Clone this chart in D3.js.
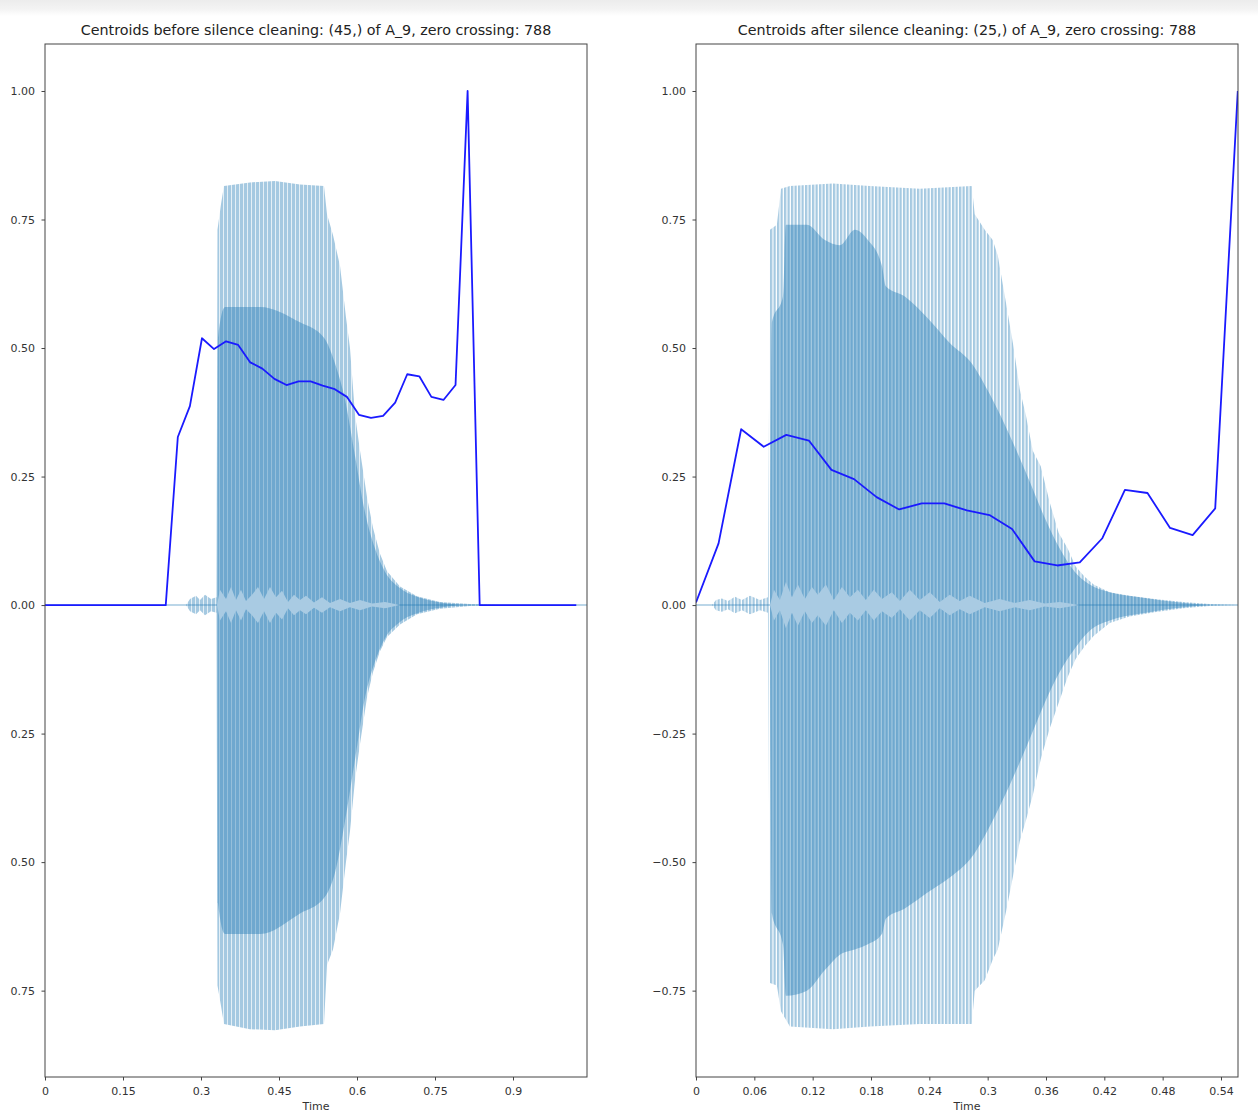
<!DOCTYPE html>
<html>
<head>
<meta charset="utf-8">
<script src="https://cdn.jsdelivr.net/npm/d3@7"></script>
<style>
  body { margin: 0; background: #fff; }
  svg { display: block; font-family: "DejaVu Sans", sans-serif; }
</style>
</head>
<body>
<svg id="chart" width="1258" height="1115"></svg>
<script>
// centroid frames are hop 512 at 22050 Hz
const hopSec = 512 / 22050;

const leftTitle = "Centroids before silence cleaning: (45,) of A_9, zero crossing: 788";
const rightTitle = "Centroids after silence cleaning: (25,) of A_9, zero crossing: 788";

// normalised spectral centroid per frame
const leftCentroids = [0, 0, 0, 0, 0, 0, 0, 0, 0, 0, 0,
  0.327, 0.387, 0.519, 0.498, 0.513, 0.506, 0.472, 0.46, 0.44, 0.428,
  0.435, 0.435, 0.427, 0.42, 0.405, 0.37, 0.364, 0.368, 0.394, 0.449,
  0.445, 0.405, 0.399, 0.428, 1.0,
  0, 0, 0, 0, 0, 0, 0, 0, 0];
const rightCentroids = [0.005, 0.12, 0.342, 0.308, 0.331, 0.32, 0.263, 0.245, 0.21, 0.186,
  0.198, 0.198, 0.184, 0.175, 0.148, 0.085, 0.077, 0.083, 0.13, 0.224,
  0.218, 0.15, 0.136, 0.188, 1.0];

// waveform outer envelope (seconds, max, min)
const leftEnvT = [0.2712, 0.2788, 0.2904, 0.2981, 0.3077, 0.3192, 0.3298, 0.3317, 0.3385, 0.3442,
  0.3942, 0.4423, 0.4904, 0.5365, 0.5423, 0.5538, 0.5673, 0.5788, 0.5865, 0.5962,
  0.6058, 0.6192, 0.6308, 0.6442, 0.6577, 0.6827, 0.7154, 0.7596, 0.8173, 0.875];
const leftEnvTop = [0, 0.012, 0.018, 0.01, 0.02, 0.012, 0.015, 0.73, 0.78, 0.815,
  0.822, 0.825, 0.818, 0.815, 0.76, 0.72, 0.66, 0.56, 0.5, 0.37,
  0.3, 0.21, 0.15, 0.1, 0.066, 0.036, 0.017, 0.006, 0.002, 0];
const leftEnvBot = [0, -0.012, -0.018, -0.01, -0.02, -0.012, -0.015, -0.74, -0.78, -0.815,
  -0.825, -0.827, -0.82, -0.815, -0.7, -0.67, -0.6, -0.5, -0.44, -0.34,
  -0.27, -0.18, -0.13, -0.09, -0.062, -0.038, -0.018, -0.007, -0.002, 0];

// denser inner body of the waveform
const leftBodyT = [0.3317, 0.3327, 0.3462, 0.4135, 0.4904, 0.5365, 0.5577, 0.5769, 0.5962, 0.6154,
  0.6346, 0.6538, 0.6827, 0.7212, 0.7596, 0.8173];
const leftBodyTop = [0, 0.52, 0.58, 0.58, 0.55, 0.52, 0.47, 0.4, 0.29, 0.18,
  0.11, 0.065, 0.033, 0.014, 0.005, 0];
const leftBodyBot = [0, -0.58, -0.64, -0.64, -0.6, -0.57, -0.52, -0.42, -0.3, -0.18,
  -0.11, -0.065, -0.033, -0.014, -0.005, 0];

// light flecks around zero
const leftBandT = [0.3308, 0.3365, 0.3481, 0.3577, 0.3673, 0.3769, 0.3865, 0.3981, 0.4096, 0.4212,
  0.4327, 0.4442, 0.4558, 0.4673, 0.4788, 0.4904, 0.5019, 0.5173, 0.5327, 0.5481,
  0.5673, 0.5865, 0.6058, 0.6288, 0.6538, 0.6827];
const leftBandV = [0, 0.03, 0.012, 0.035, 0.01, 0.03, 0.008, 0.02, 0.035, 0.012,
  0.035, 0.015, 0.028, 0.006, 0.02, 0.01, 0.018, 0.005, 0.015, 0.004,
  0.012, 0.004, 0.01, 0.003, 0.006, 0];

const rightEnvT = [0.0164, 0.0206, 0.0267, 0.0329, 0.0401, 0.0473, 0.0555, 0.0658, 0.074, 0.0761,
  0.0832, 0.0874, 0.0966, 0.1408, 0.1788, 0.2302, 0.2837, 0.2867, 0.297, 0.3052,
  0.3104, 0.3196, 0.3268, 0.333, 0.3392, 0.3464, 0.3546, 0.3638, 0.3731, 0.3823,
  0.3905, 0.3998, 0.409, 0.4255, 0.446, 0.4717, 0.5015, 0.5283, 0.557];
const rightEnvTop = [0, 0.01, 0.013, 0.008, 0.016, 0.01, 0.018, 0.01, 0.015, 0.73,
  0.74, 0.81, 0.815, 0.82, 0.815, 0.81, 0.815, 0.76, 0.73, 0.71,
  0.68, 0.58, 0.5, 0.42, 0.37, 0.3, 0.27, 0.2, 0.14, 0.11,
  0.075, 0.055, 0.04, 0.025, 0.018, 0.012, 0.006, 0.002, 0];
const rightEnvBot = [0, -0.01, -0.013, -0.008, -0.016, -0.01, -0.018, -0.01, -0.015, -0.735,
  -0.74, -0.79, -0.82, -0.825, -0.82, -0.815, -0.815, -0.75, -0.73, -0.69,
  -0.67, -0.59, -0.52, -0.46, -0.42, -0.37, -0.3, -0.24, -0.19, -0.14,
  -0.105, -0.08, -0.06, -0.035, -0.022, -0.014, -0.006, -0.002, 0];

const rightBodyT = [0.0761, 0.0781, 0.0894, 0.0925, 0.1141, 0.1326, 0.148, 0.1634, 0.1768, 0.1912,
  0.1953, 0.2148, 0.2374, 0.261, 0.2837, 0.3022, 0.3227, 0.3433, 0.3587, 0.3741,
  0.3895, 0.4049, 0.4255, 0.4563, 0.5026, 0.5283];
const rightBodyTop = [0, 0.55, 0.6, 0.74, 0.74, 0.71, 0.7, 0.73, 0.71, 0.66,
  0.62, 0.6, 0.56, 0.51, 0.47, 0.41, 0.33, 0.24, 0.17, 0.11,
  0.065, 0.04, 0.025, 0.015, 0.004, 0];
const rightBodyBot = [0, -0.6, -0.66, -0.76, -0.75, -0.71, -0.68, -0.67, -0.66, -0.64,
  -0.61, -0.59, -0.56, -0.53, -0.49, -0.43, -0.35, -0.26, -0.19, -0.13,
  -0.085, -0.05, -0.03, -0.017, -0.004, 0];

const rightBandT = [0.0761, 0.0802, 0.0863, 0.0925, 0.0987, 0.1048, 0.112, 0.1192, 0.1254, 0.1336,
  0.1418, 0.1501, 0.1583, 0.1665, 0.1747, 0.1829, 0.1912, 0.2014, 0.2097, 0.2199,
  0.2302, 0.2405, 0.2508, 0.261, 0.2713, 0.2816, 0.297, 0.3124, 0.3279, 0.3433,
  0.3587, 0.3741, 0.3947];
const rightBandV = [0, 0.03, 0.01, 0.045, 0.015, 0.04, 0.012, 0.035, 0.02, 0.04,
  0.01, 0.035, 0.015, 0.03, 0.01, 0.03, 0.012, 0.025, 0.008, 0.03,
  0.01, 0.025, 0.006, 0.02, 0.008, 0.018, 0.004, 0.012, 0.004, 0.01,
  0.003, 0.006, 0];

const yTicks = [1, 0.75, 0.5, 0.25, 0, -0.25, -0.5, -0.75];
const leftXTicks = [0, 0.15, 0.3, 0.45, 0.6, 0.75, 0.9];
const rightXTicks = [0, 0.06, 0.12, 0.18, 0.24, 0.3, 0.36, 0.42, 0.48, 0.54];

const waveColor = "#1f77b4";
const svg = d3.select('#chart');
const defs = svg.append('defs');

// grey strip of the notebook cell at the very top
const grad = defs.append('linearGradient').attr('id', 'topband').attr('x1', 0).attr('x2', 0).attr('y1', 0).attr('y2', 1);
grad.append('stop').attr('offset', '0%').attr('stop-color', '#ececec');
grad.append('stop').attr('offset', '55%').attr('stop-color', '#f3f3f3');
grad.append('stop').attr('offset', '100%').attr('stop-color', '#ffffff');
svg.append('rect').attr('x', 0).attr('y', 0).attr('width', 1258).attr('height', 16).attr('fill', 'url(#topband)');

// vertical stripe texture of the waveform
function stripes(id, period, bar) {
  const p = defs.append('pattern').attr('id', id)
    .attr('patternUnits', 'userSpaceOnUse')
    .attr('width', period).attr('height', 20);
  p.append('rect').attr('x', 0).attr('y', 0).attr('width', bar).attr('height', 20)
    .attr('fill', waveColor).attr('fill-opacity', 0.4);
}
stripes('stripesL', 4, 3.3);
stripes('stripesR', 3.5, 2.3);

// the screenshot is cut at the left edge, hiding the minus signs of the left panel
defs.append('clipPath').attr('id', 'cropLeft')
  .append('rect').attr('x', 10).attr('y', 0).attr('width', 1248).attr('height', 1115);

const plotTop = 44, plotBottom = 1077;
const y = d3.scaleLinear().domain([-0.918, 1.0914]).range([plotBottom, plotTop]);

function drawPanel(p) {
  const x = d3.scaleLinear().domain([0, p.duration]).range([p.left, p.right]);
  const g = svg.append('g');

  const clipId = 'clip' + p.name;
  defs.append('clipPath').attr('id', clipId)
    .append('rect').attr('x', p.left).attr('y', plotTop).attr('width', p.right - p.left).attr('height', plotBottom - plotTop);
  const plot = g.append('g').attr('clip-path', `url(#${clipId})`);

  // zero line of the waveform
  plot.append('line')
    .attr('x1', x(0)).attr('x2', x(p.duration))
    .attr('y1', y(0)).attr('y2', y(0))
    .attr('stroke', '#a5c9e1').attr('stroke-width', 1.5);

  const env = p.envT.map((t, i) => ({t: t, hi: p.envTop[i], lo: p.envBot[i]}));
  const body = p.bodyT.map((t, i) => ({t: t, hi: p.bodyTop[i], lo: p.bodyBot[i]}));
  const band = p.bandT.map((t, i) => ({t: t, hi: p.bandV[i], lo: -p.bandV[i]}));
  const area = d3.area().x(d => x(d.t)).y0(d => y(d.lo)).y1(d => y(d.hi));
  const softArea = d3.area().curve(d3.curveMonotoneX).x(d => x(d.t)).y0(d => y(d.lo)).y1(d => y(d.hi));

  plot.append('path').datum(env).attr('d', area).attr('fill', `url(#${p.pattern})`);
  plot.append('path').datum(body).attr('d', softArea)
    .attr('fill', waveColor).attr('fill-opacity', 0.4);
  plot.append('path').datum(band).attr('d', area).attr('fill', '#a9cbe3');

  // spectral centroid
  const line = d3.line().x((d, i) => x(i * hopSec)).y(d => y(d));
  plot.append('path').datum(p.centroids).attr('d', line)
    .attr('fill', 'none').attr('stroke', '#1a1aff').attr('stroke-width', 1.8)
    .attr('stroke-linejoin', 'round');

  // axes
  const yWrap = g.append('g');
  if (p.cropLabels) yWrap.attr('clip-path', 'url(#cropLeft)');
  const ya = yWrap.append('g').attr('transform', `translate(${p.left},0)`)
    .call(d3.axisLeft(y).tickValues(yTicks).tickFormat(d3.format('.2f')).tickSize(3.5).tickPadding(6.5));
  const xa = g.append('g').attr('transform', `translate(0,${plotBottom})`)
    .call(d3.axisBottom(x).tickValues(p.xTicks).tickFormat(d3.format('~g')).tickSize(3.5).tickPadding(6.5));
  [ya, xa].forEach(a => {
    a.select('.domain').remove();
    a.selectAll('line').attr('stroke', '#444');
    a.selectAll('text').attr('fill', '#333').style('font-size', '11px')
      .style('font-family', '"DejaVu Sans", sans-serif');
  });

  g.append('rect').attr('x', p.left).attr('y', plotTop)
    .attr('width', p.right - p.left).attr('height', plotBottom - plotTop)
    .attr('fill', 'none').attr('stroke', '#444').attr('stroke-width', 1);

  g.append('text').attr('x', (p.left + p.right) / 2).attr('y', 35)
    .attr('text-anchor', 'middle').attr('fill', '#222').style('font-size', '14.3px')
    .text(p.title);
  g.append('text').attr('x', (p.left + p.right) / 2).attr('y', 1110)
    .attr('text-anchor', 'middle').attr('fill', '#333').style('font-size', '11px')
    .text('Time');
}

drawPanel({
  name: 'L', left: 45, right: 587, duration: 1.0423, title: leftTitle,
  centroids: leftCentroids, envT: leftEnvT, envTop: leftEnvTop, envBot: leftEnvBot,
  bodyT: leftBodyT, bodyTop: leftBodyTop, bodyBot: leftBodyBot,
  bandT: leftBandT, bandV: leftBandV,
  xTicks: leftXTicks, pattern: 'stripesL', cropLabels: true
});
drawPanel({
  name: 'R', left: 696, right: 1238, duration: 0.5575, title: rightTitle,
  centroids: rightCentroids, envT: rightEnvT, envTop: rightEnvTop, envBot: rightEnvBot,
  bodyT: rightBodyT, bodyTop: rightBodyTop, bodyBot: rightBodyBot,
  bandT: rightBandT, bandV: rightBandV,
  xTicks: rightXTicks, pattern: 'stripesR', cropLabels: false
});
</script>
</body>
</html>
